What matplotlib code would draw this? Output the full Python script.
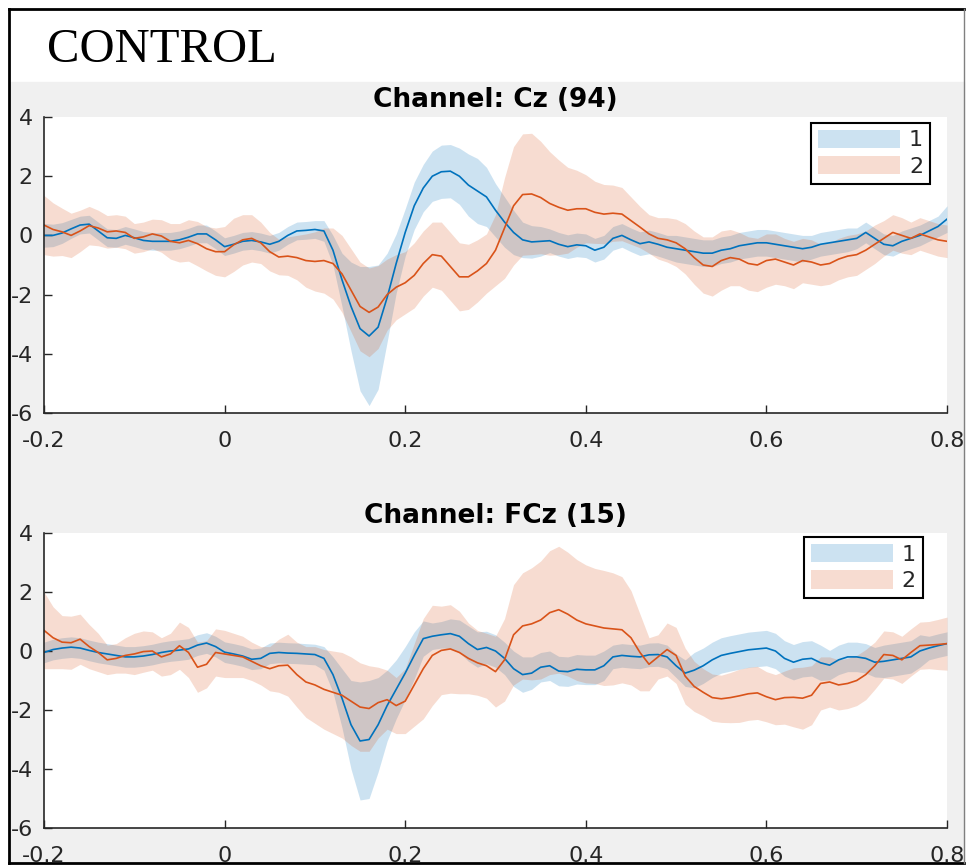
import matplotlib
matplotlib.use("Agg")
import matplotlib.pyplot as plt
import numpy as np
from matplotlib.patches import Patch, Rectangle
from matplotlib.lines import Line2D

plt.rcParams['axes.unicode_minus'] = False
plt.rcParams['font.family'] = 'DejaVu Sans'

# temps (s), un échantillon toutes les 10 ms
temps = np.arange(101) * 0.01 - 0.2

titres = ["Channel: Cz (94)", "Channel: FCz (15)"]
noms = ["1", "2"]
xticks = [-0.2, 0, 0.2, 0.4, 0.6, 0.8]
xlabels = ["-0.2", "0", "0.2", "0.4", "0.6", "0.8"]
yticks = [-6, -4, -2, 0, 2, 4]

# Cz : moyenne et demi-largeur de la bande, condition 1 puis 2
cz_m1 = [0.0, 0.0, 0.08, 0.22, 0.35, 0.38, 0.15, -0.08, -0.1, 0.0,
         -0.08, -0.17, -0.2, -0.2, -0.2, -0.15, -0.06, 0.05, 0.05, -0.15,
         -0.38, -0.3, -0.2, -0.17, -0.22, -0.3, -0.2, 0.0, 0.15, 0.17,
         0.2, 0.15, -0.5, -1.5, -2.4, -3.15, -3.4, -3.1, -2.1, -0.95,
         0.1, 1.0, 1.6, 2.0, 2.15, 2.17, 2.0, 1.7, 1.5, 1.3,
         0.85, 0.45, 0.1, -0.15, -0.22, -0.2, -0.18, -0.3, -0.38, -0.32,
         -0.35, -0.5, -0.4, -0.1, 0.0, -0.15, -0.28, -0.22, -0.3, -0.4,
         -0.45, -0.5, -0.55, -0.6, -0.6, -0.5, -0.45, -0.35, -0.3, -0.25,
         -0.25, -0.3, -0.35, -0.4, -0.45, -0.4, -0.3, -0.25, -0.2, -0.15,
         -0.1, 0.1, -0.1, -0.3, -0.35, -0.2, -0.1, 0.0, 0.15, 0.3,
         0.55]
cz_w1 = [0.4, 0.38, 0.35, 0.32, 0.3, 0.3, 0.3, 0.3, 0.3, 0.3,
         0.3, 0.3, 0.3, 0.3, 0.3, 0.3, 0.3, 0.3, 0.3, 0.3,
         0.3, 0.3, 0.3, 0.3, 0.3, 0.3, 0.3, 0.3, 0.3, 0.3,
         0.3, 0.35, 0.5, 0.9, 1.5, 2.1, 2.35, 2.1, 1.5, 1.0,
         0.8, 0.8, 0.8, 0.85, 0.9, 0.9, 0.95, 1.05, 1.1, 1.0,
         0.9, 0.85, 0.75, 0.6, 0.55, 0.5, 0.4, 0.4, 0.4, 0.4,
         0.4, 0.4, 0.4, 0.4, 0.4, 0.4, 0.4, 0.4, 0.4, 0.4,
         0.45, 0.45, 0.45, 0.45, 0.45, 0.45, 0.45, 0.45, 0.45, 0.45,
         0.45, 0.45, 0.45, 0.45, 0.45, 0.4, 0.4, 0.4, 0.4, 0.4,
         0.35, 0.35, 0.35, 0.35, 0.35, 0.35, 0.35, 0.35, 0.35, 0.35,
         0.45]
cz_m2 = [0.35, 0.2, 0.12, 0.0, 0.15, 0.33, 0.25, 0.12, 0.15, 0.1,
         -0.1, -0.05, 0.05, -0.02, -0.2, -0.25, -0.17, -0.28, -0.45, -0.55,
         -0.55, -0.32, -0.15, -0.1, -0.25, -0.55, -0.73, -0.7, -0.75, -0.85,
         -0.88, -0.85, -0.95, -1.3, -1.85, -2.4, -2.6, -2.42, -2.0, -1.75,
         -1.6, -1.35, -0.95, -0.65, -0.7, -1.05, -1.4, -1.4, -1.2, -0.95,
         -0.5, 0.25, 1.0, 1.38, 1.4, 1.28, 1.08, 0.95, 0.85, 0.9,
         0.9, 0.78, 0.72, 0.75, 0.72, 0.5, 0.28, 0.05, -0.1, -0.15,
         -0.25, -0.45, -0.75, -1.0, -1.05, -0.85, -0.75, -0.8, -0.95, -1.0,
         -0.85, -0.8, -0.9, -1.0, -0.85, -0.9, -1.0, -0.95, -0.8, -0.7,
         -0.65, -0.5, -0.3, -0.1, 0.1, 0.0, -0.1, 0.05, -0.05, -0.15,
         -0.2]
cz_w2 = [1.0, 0.9, 0.8, 0.75, 0.7, 0.65, 0.6, 0.55, 0.55, 0.55,
         0.5, 0.5, 0.5, 0.55, 0.6, 0.65, 0.7, 0.75, 0.75, 0.8,
         0.85, 0.9, 0.85, 0.8, 0.7, 0.65, 0.6, 0.65, 0.75, 0.9,
         1.0, 1.1, 1.2, 1.3, 1.4, 1.5, 1.5, 1.4, 1.2, 1.1,
         1.05, 1.1, 1.1, 1.1, 1.15, 1.15, 1.15, 1.1, 1.05, 1.0,
         1.2, 1.7, 2.0, 2.05, 2.05, 1.9, 1.75, 1.6, 1.45, 1.3,
         1.15, 1.05, 1.0, 0.95, 0.9, 0.8, 0.7, 0.65, 0.7, 0.75,
         0.8, 0.85, 0.9, 0.95, 1.0, 1.0, 0.95, 0.9, 0.9, 0.9,
         0.9, 0.85, 0.8, 0.8, 0.75, 0.75, 0.7, 0.7, 0.7, 0.7,
         0.7, 0.65, 0.65, 0.6, 0.6, 0.6, 0.55, 0.55, 0.55, 0.55,
         0.55]

# FCz
fcz_m1 = [-0.05, 0.05, 0.1, 0.13, 0.1, 0.02, -0.05, -0.1, -0.15, -0.2,
          -0.2, -0.17, -0.12, -0.05, 0.0, 0.03, 0.07, 0.2, 0.27, 0.15,
          -0.04, -0.1, -0.17, -0.28, -0.25, -0.08, -0.05, -0.07, -0.08, -0.1,
          -0.12, -0.25, -0.8, -1.6, -2.5, -3.05, -3.0, -2.5, -1.85, -1.3,
          -0.75, -0.15, 0.42, 0.5, 0.55, 0.59, 0.5, 0.25, 0.05, 0.12,
          0.0, -0.25, -0.6, -0.8, -0.75, -0.55, -0.5, -0.68, -0.7, -0.62,
          -0.64, -0.64, -0.5, -0.2, -0.15, -0.18, -0.2, -0.13, -0.12, -0.2,
          -0.5, -0.75, -0.65, -0.5, -0.3, -0.15, -0.08, -0.02, 0.04, 0.07,
          0.1, 0.0, -0.25, -0.38, -0.28, -0.25, -0.4, -0.48, -0.3, -0.2,
          -0.2, -0.25, -0.38, -0.35, -0.3, -0.25, -0.2, 0.0, 0.1, 0.18,
          0.25]
fcz_w1 = [0.35, 0.35, 0.35, 0.35, 0.35, 0.35, 0.35, 0.35, 0.35, 0.35,
          0.35, 0.35, 0.35, 0.35, 0.35, 0.35, 0.35, 0.35, 0.35, 0.35,
          0.35, 0.35, 0.35, 0.35, 0.35, 0.35, 0.35, 0.35, 0.35, 0.35,
          0.35, 0.4, 0.6, 1.0, 1.5, 2.0, 2.0, 1.6, 1.2, 1.0,
          0.9, 0.8, 0.6, 0.45, 0.45, 0.5, 0.55, 0.6, 0.6, 0.55,
          0.55, 0.55, 0.6, 0.6, 0.55, 0.5, 0.5, 0.5, 0.5, 0.5,
          0.5, 0.5, 0.5, 0.4, 0.4, 0.4, 0.4, 0.4, 0.4, 0.4,
          0.4, 0.45, 0.6, 0.6, 0.6, 0.6, 0.6, 0.6, 0.6, 0.6,
          0.6, 0.6, 0.6, 0.6, 0.6, 0.6, 0.6, 0.5, 0.5, 0.5,
          0.5, 0.5, 0.5, 0.55, 0.55, 0.55, 0.55, 0.55, 0.4, 0.4,
          0.4]
fcz_m2 = [0.7, 0.45, 0.3, 0.28, 0.4, 0.15, -0.05, -0.3, -0.25, -0.15,
          -0.1, -0.02, 0.0, -0.2, -0.1, 0.18, -0.05, -0.55, -0.45, -0.05,
          -0.1, -0.15, -0.2, -0.35, -0.5, -0.6, -0.5, -0.48, -0.8, -1.05,
          -1.15, -1.3, -1.4, -1.5, -1.7, -1.9, -1.95, -1.75, -1.65, -1.85,
          -1.7, -1.15, -0.6, -0.15, 0.02, 0.07, -0.05, -0.25, -0.4, -0.5,
          -0.7, -0.3, 0.55, 0.85, 0.92, 1.05, 1.3, 1.4, 1.25, 1.05,
          0.92, 0.85, 0.78, 0.75, 0.72, 0.45, -0.05, -0.45, -0.2, 0.05,
          -0.15, -0.85, -1.2, -1.4, -1.58, -1.62, -1.58, -1.52, -1.45, -1.42,
          -1.55, -1.65, -1.58, -1.57, -1.6, -1.5, -1.1, -1.05, -1.15, -1.1,
          -1.0, -0.8, -0.5, -0.12, -0.15, -0.3, -0.05, 0.18, 0.2, 0.22,
          0.25]
fcz_w2 = [1.3, 1.05, 0.9, 0.9, 0.85, 0.75, 0.65, 0.5, 0.5, 0.6,
          0.7, 0.7, 0.65, 0.65, 0.7, 0.8, 0.85, 0.85, 0.8, 0.8,
          0.8, 0.75, 0.7, 0.65, 0.65, 0.75, 0.9, 1.05, 1.1, 1.2,
          1.3, 1.35, 1.4, 1.45, 1.5, 1.5, 1.45, 1.2, 1.0, 0.95,
          1.1, 1.4, 1.7, 1.7, 1.5, 1.5, 1.4, 1.2, 1.1, 1.1,
          1.2, 1.4, 1.7, 1.8, 1.9, 2.0, 2.1, 2.15, 2.1, 2.05,
          2.0, 1.95, 1.95, 1.9, 1.8, 1.6, 1.3, 0.9, 0.75, 0.9,
          0.95, 0.95, 0.85, 0.8, 0.8, 0.8, 0.85, 0.9, 0.9, 0.9,
          0.85, 0.85, 0.9, 1.0, 1.05, 1.0, 0.9, 0.85, 0.85, 0.85,
          0.85, 0.85, 0.8, 0.8, 0.8, 0.8, 0.8, 0.8, 0.8, 0.85,
          0.9]

bleu = "#0072BD"
orange = "#D95319"
gris = "#262626"


def panneau(ax, titre, m1, w1, m2, w2, coin):
    for m, w, c in [(m1, w1, bleu), (m2, w2, orange)]:
        m = np.array(m)
        w = np.array(w)
        ax.fill_between(temps, m - w, m + w, color=c, alpha=0.2, lw=0)
    ax.plot(temps, m1, color=bleu, lw=1.2)
    ax.plot(temps, m2, color=orange, lw=1.2)
    ax.set_xlim(-0.2, 0.8)
    ax.set_ylim(-6, 4)
    ax.set_xticks(xticks)
    ax.set_xticklabels(xlabels)
    ax.set_yticks(yticks)
    ax.spines['top'].set_visible(False)
    ax.spines['right'].set_visible(False)
    for s in ['left', 'bottom']:
        ax.spines[s].set_color(gris)
        ax.spines[s].set_linewidth(1.2)
    ax.tick_params(direction='in', length=6, width=1.0, color=gris,
                   labelcolor=gris, labelsize=16)
    ax.tick_params(axis='x', pad=13)
    ax.tick_params(axis='y', pad=8)
    ax.set_title(titre, fontsize=19, fontweight='bold', pad=7)
    poignees = [Patch(facecolor=bleu, alpha=0.2, edgecolor='none'),
                Patch(facecolor=orange, alpha=0.2, edgecolor='none')]
    leg = ax.legend(poignees, noms, loc='upper right', bbox_to_anchor=coin,
                    borderaxespad=0, fancybox=False, framealpha=1,
                    edgecolor='black', fontsize=16, handlelength=3.7,
                    handleheight=0.9, handletextpad=0.4, labelspacing=0.25,
                    borderpad=0.3)
    leg.get_frame().set_linewidth(1.5)
    for t in leg.get_texts():
        t.set_color(gris)


fig = plt.figure(figsize=(9.66, 8.65), dpi=100)
fig.patch.set_facecolor('white')

# fond gris sous le bandeau blanc + cadre
fig.add_artist(Rectangle((9 / 966, 0), 955 / 966, 1 - 82 / 865,
                         transform=fig.transFigure, color='#f0f0f0', zorder=0))
fig.add_artist(Line2D([9 / 966, 964 / 966], [1 - 9 / 865, 1 - 9 / 865],
                      transform=fig.transFigure, color='black', lw=2))
fig.add_artist(Line2D([9 / 966, 9 / 966], [1 - 9 / 865, 1 - 863 / 865],
                      transform=fig.transFigure, color='black', lw=2))
fig.add_artist(Line2D([9 / 966, 964 / 966], [1 - 863 / 865, 1 - 863 / 865],
                      transform=fig.transFigure, color='black', lw=2))
fig.add_artist(Line2D([964 / 966, 964 / 966], [1 - 9 / 865, 1 - 863 / 865],
                      transform=fig.transFigure, color='#808080', lw=1))

fig.text(47 / 966, 1 - 62 / 865, "CONTROL", family='Liberation Serif',
         fontsize=35, va='baseline', ha='left')

ax1 = fig.add_axes([44 / 966, 1 - 413 / 865, 903 / 966, 296 / 865])
ax2 = fig.add_axes([44 / 966, 1 - 828 / 865, 903 / 966, 295 / 865])

panneau(ax1, titres[0], cz_m1, cz_w1, cz_m2, cz_w2, (0.981, 0.98))
panneau(ax2, titres[1], fcz_m1, fcz_w1, fcz_m2, fcz_w2, (0.973, 0.986))

fig.savefig("out.png", dpi=100)
